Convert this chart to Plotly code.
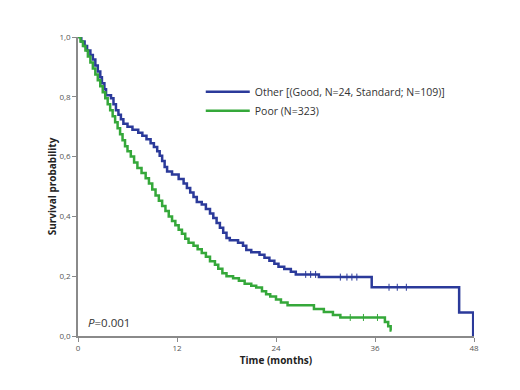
import plotly.graph_objects as go

# Other [(Good, N=24, Standard; N=109)]
other_t = [0, 0.4, 0.8, 1.1, 1.5, 1.8, 2.1, 2.4, 2.7, 2.9, 3.2, 3.4, 4.0, 4.3, 4.6, 4.9, 5.2, 5.5,
           6.0, 6.6, 7.3, 7.8, 8.3, 8.8, 9.2, 9.6, 9.9, 10.2, 10.5, 10.8, 11.4, 12.2, 12.8, 13.2,
           13.6, 14.0, 14.4, 15.0, 15.5, 16.0, 16.4, 16.8, 17.2, 17.6, 18.0, 18.4, 19.4, 20.0, 20.4,
           21.0, 22.0, 22.6, 23.2, 23.8, 24.3, 25.0, 25.8, 26.4, 29.2, 35.6, 46.2, 47.9]
other_s = [1.0, 0.985, 0.97, 0.955, 0.94, 0.925, 0.905, 0.885, 0.865, 0.845, 0.825, 0.805, 0.795,
           0.775, 0.755, 0.74, 0.725, 0.71, 0.70, 0.69, 0.68, 0.67, 0.658, 0.645, 0.632, 0.618, 0.603,
           0.585, 0.565, 0.55, 0.54, 0.525, 0.51, 0.495, 0.48, 0.465, 0.448, 0.44, 0.425, 0.41, 0.395,
           0.378, 0.362, 0.345, 0.328, 0.32, 0.312, 0.302, 0.288, 0.28, 0.272, 0.262, 0.252, 0.242,
           0.232, 0.224, 0.215, 0.206, 0.197, 0.163, 0.079, 0.0]
other_cens_t = [27.6, 28.2, 28.8, 31.8, 32.6, 33.2, 33.8, 37.7, 38.7, 39.8]

# Poor (N=323)
poor_t = [0, 0.3, 0.6, 0.9, 1.2, 1.5, 1.8, 2.1, 2.4, 2.7, 3.0, 3.3, 3.6, 3.9, 4.2, 4.5, 4.8, 5.1,
          5.4, 5.7, 6.0, 6.4, 6.8, 7.2, 7.7, 8.2, 8.6, 9.0, 9.4, 9.8, 10.2, 10.6, 11.0, 11.4, 11.8,
          12.2, 12.6, 13.0, 13.4, 14.0, 14.5, 15.0, 15.5, 16.0, 16.6, 17.0, 17.5, 18.0, 18.8, 19.5,
          20.2, 21.0, 21.6, 22.3, 22.8, 23.3, 24.0, 24.6, 25.4, 28.6, 29.8, 30.9, 31.8, 37.2, 37.6,
          37.9, 38.0]
poor_s = [1.0, 0.985, 0.97, 0.955, 0.935, 0.915, 0.895, 0.875, 0.855, 0.835, 0.815, 0.795, 0.775,
          0.755, 0.735, 0.715, 0.695, 0.675, 0.655, 0.635, 0.618, 0.60, 0.58, 0.562, 0.545, 0.528,
          0.51, 0.49, 0.47, 0.452, 0.435, 0.418, 0.40, 0.385, 0.37, 0.355, 0.342, 0.325, 0.312,
          0.302, 0.29, 0.278, 0.265, 0.25, 0.238, 0.225, 0.21, 0.2, 0.193, 0.185, 0.175, 0.168,
          0.162, 0.15, 0.14, 0.132, 0.122, 0.112, 0.103, 0.09, 0.08, 0.07, 0.062, 0.047, 0.033,
          0.018, 0.018]
poor_cens_t = [33.0, 34.6, 36.3]

x_ticks = [0, 12, 24, 36, 48]
y_ticks = [0.0, 0.2, 0.4, 0.6, 0.8, 1.0]
y_tick_labels = ["0,0", "0,2", "0,4", "0,6", "0,8", "1,0"]

BLUE = "#2b3a9a"
GREEN = "#35a83a"


def step_value(ts, ss, t):
    v = ss[0]
    for ti, si in zip(ts, ss):
        if ti <= t:
            v = si
    return v


fig = go.Figure()
fig.add_trace(go.Scatter(x=other_t, y=other_s, mode="lines", line=dict(color=BLUE, width=2.5, shape="hv"),
                         name="Other [(Good, N=24, Standard; N=109)]"))
fig.add_trace(go.Scatter(x=poor_t, y=poor_s, mode="lines", line=dict(color=GREEN, width=2.5, shape="hv"),
                         name="Poor (N=323)"))
fig.add_trace(go.Scatter(x=other_cens_t, y=[step_value(other_t, other_s, t) for t in other_cens_t],
                         mode="markers", showlegend=False,
                         marker=dict(symbol="line-ns", size=5, line=dict(color=BLUE, width=1))))
fig.add_trace(go.Scatter(x=poor_cens_t, y=[step_value(poor_t, poor_s, t) for t in poor_cens_t],
                         mode="markers", showlegend=False,
                         marker=dict(symbol="line-ns", size=5, line=dict(color=GREEN, width=1))))

fig.add_annotation(x=0.02, y=0.045, xref="paper", yref="paper", xanchor="left", yanchor="middle",
                   text="<i>P</i>=0.001", showarrow=False,
                   font=dict(family="Open Sans, Liberation Sans, sans-serif", size=11.5, color="#333"))

# the page body adds an 8px offset; margins compensate so the plot area lands where the reference has it
fig.update_layout(
    width=520, height=390,
    margin=dict(l=70, r=54, t=29, b=62, autoexpand=False),
    paper_bgcolor="white", plot_bgcolor="white",
    font=dict(family="Open Sans, Liberation Sans, sans-serif", color="#333"),
    legend=dict(x=0.31, y=0.865, xanchor="left", yanchor="top", bgcolor="rgba(0,0,0,0)",
                font=dict(size=10.5, color="#333"), tracegroupgap=0, itemwidth=44),
    xaxis=dict(range=[0, 48], tickvals=x_ticks, ticktext=[str(v) for v in x_ticks], automargin=False,
               showgrid=False, zeroline=False, showline=True, linecolor="#8a8a8a", linewidth=1.5,
               ticks="outside", ticklen=4, tickcolor="#8a8a8a", tickfont=dict(size=8, color="#555"),
               title=dict(text="<b>Time (months)</b>", font=dict(size=10, color="#222"), standoff=0)),
    yaxis=dict(range=[0, 1.0], tickvals=y_ticks, ticktext=y_tick_labels, automargin=False,
               showgrid=False, zeroline=False, showline=True, linecolor="#8a8a8a", linewidth=1.5,
               ticks="outside", ticklen=4, tickcolor="#8a8a8a", tickfont=dict(size=8, color="#555"),
               title=dict(text="<b>Survival probability</b>", font=dict(size=10, color="#222"), standoff=1)),
)

fig.write_html("out.html")
